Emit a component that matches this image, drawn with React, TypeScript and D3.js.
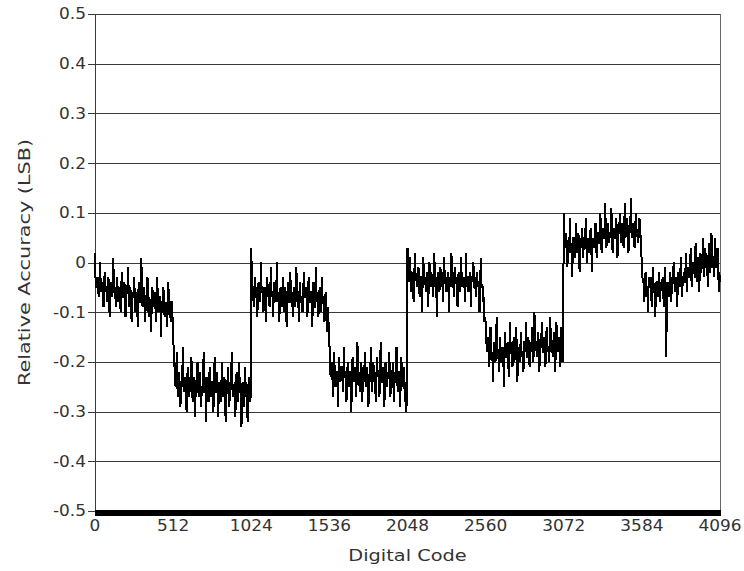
import React from "react";
import * as d3 from "d3";

const codeStep = 4;
const xTicks = [0, 512, 1024, 1536, 2048, 2560, 3072, 3584, 4096];
const yTicks = [-0.5, -0.4, -0.3, -0.2, -0.1, 0, 0.1, 0.2, 0.3, 0.4, 0.5];
const yTickLabels = ["-0.5", "-0.4", "-0.3", "-0.2", "-0.1", "0", "0.1", "0.2", "0.3", "0.4", "0.5"];

// Trace: "A" = codes 0, 8, 16, ... of each 512-code segment,
// "B" = codes 4, 12, 20, ... of the same segment.
const seg0A = [
  0.02, -0.05, -0.03, -0.07, 0.0, -0.06, -0.04, -0.09, -0.02, -0.05, -0.08, -0.03,
  -0.11, -0.04, -0.07, 0.01, -0.06, -0.09, -0.03, -0.08, -0.05, -0.1, -0.02, -0.07,
  -0.04, -0.11, -0.06, -0.01, -0.09, -0.05, -0.12, -0.07, -0.03, -0.1, -0.06, -0.13,
  -0.04, -0.08, 0.01, -0.09, -0.05, -0.12, -0.07, -0.03, -0.11, -0.08, -0.14, -0.05,
  -0.09, -0.06, -0.12, -0.03, -0.1, -0.07, -0.15, -0.08, -0.05, -0.11, -0.09, -0.13,
  -0.04, -0.1, -0.12, -0.08,
];
const seg0B = [
  -0.04, -0.05, -0.04, -0.05, -0.03, -0.05, -0.06, -0.04, -0.05, -0.06, -0.04, -0.06,
  -0.05, -0.06, -0.04, -0.06, -0.05, -0.07, -0.05, -0.06, -0.07, -0.05, -0.06, -0.07,
  -0.05, -0.07, -0.06, -0.05, -0.07, -0.08, -0.06, -0.07, -0.06, -0.08, -0.07, -0.06,
  -0.08, -0.06, -0.07, -0.08, -0.07, -0.09, -0.06, -0.08, -0.07, -0.09, -0.08, -0.07,
  -0.08, -0.09, -0.07, -0.08, -0.09, -0.07, -0.1, -0.08, -0.07, -0.09, -0.08, -0.1,
  -0.07, -0.09, -0.08, -0.11,
];
const seg1A = [
  -0.14, -0.2, -0.25, -0.18, -0.27, -0.22, -0.29, -0.24, -0.17, -0.26, -0.23, -0.3,
  -0.21, -0.27, -0.25, -0.19, -0.28, -0.23, -0.31, -0.24, -0.2, -0.27, -0.22, -0.29,
  -0.25, -0.18, -0.26, -0.32, -0.23, -0.28, -0.21, -0.27, -0.24, -0.3, -0.19, -0.26,
  -0.22, -0.31, -0.25, -0.28, -0.2, -0.27, -0.23, -0.32, -0.26, -0.21, -0.29, -0.24,
  -0.18, -0.27, -0.25, -0.31, -0.22, -0.28, -0.2, -0.26, -0.33, -0.24, -0.29, -0.21,
  -0.27, -0.32, -0.23, -0.28,
];
const seg1B = [
  -0.18, -0.24, -0.23, -0.25, -0.24, -0.26, -0.25, -0.23, -0.25, -0.24, -0.26, -0.24,
  -0.25, -0.23, -0.26, -0.25, -0.24, -0.26, -0.25, -0.23, -0.25, -0.24, -0.26, -0.25,
  -0.24, -0.26, -0.23, -0.25, -0.26, -0.24, -0.25, -0.26, -0.24, -0.25, -0.23, -0.26,
  -0.25, -0.24, -0.26, -0.25, -0.24, -0.26, -0.25, -0.27, -0.24, -0.25, -0.26, -0.24,
  -0.25, -0.26, -0.24, -0.25, -0.27, -0.25, -0.24, -0.26, -0.25, -0.27, -0.24, -0.26,
  -0.25, -0.26, -0.24, -0.27,
];
const seg2A = [
  0.03, -0.05, -0.09, -0.03, -0.07, -0.11, -0.04, -0.08, 0.0, -0.06, -0.1, -0.05,
  -0.12, -0.03, -0.07, -0.09, -0.01, -0.06, -0.11, -0.04, -0.08, 0.0, -0.07, -0.12,
  -0.05, -0.09, -0.03, -0.1, -0.06, -0.13, -0.04, -0.08, -0.02, -0.07, -0.11, -0.05,
  -0.09, -0.01, -0.06, -0.12, -0.04, -0.08, -0.1, -0.02, -0.07, -0.05, -0.11, -0.03,
  -0.08, -0.06, -0.13, -0.04, -0.09, -0.01, -0.07, -0.11, -0.05, -0.1, -0.03, -0.08,
  -0.12, -0.06, -0.14, -0.09,
];
const seg2B = [
  -0.03, -0.05, -0.06, -0.05, -0.07, -0.06, -0.05, -0.07, -0.06, -0.05, -0.07, -0.06,
  -0.07, -0.05, -0.06, -0.08, -0.06, -0.07, -0.05, -0.07, -0.06, -0.08, -0.06, -0.07,
  -0.08, -0.06, -0.07, -0.05, -0.08, -0.07, -0.06, -0.08, -0.07, -0.06, -0.08, -0.07,
  -0.06, -0.08, -0.07, -0.06, -0.08, -0.07, -0.08, -0.06, -0.07, -0.09, -0.07, -0.08,
  -0.06, -0.08, -0.07, -0.09, -0.07, -0.08, -0.06, -0.08, -0.09, -0.07, -0.08, -0.09,
  -0.07, -0.09, -0.1, -0.14,
];
const seg3A = [
  -0.16, -0.23, -0.2, -0.27, -0.18, -0.25, -0.22, -0.29, -0.19, -0.24, -0.21, -0.26,
  -0.17, -0.23, -0.28, -0.2, -0.25, -0.22, -0.3, -0.19, -0.24, -0.21, -0.27, -0.16,
  -0.23, -0.26, -0.2, -0.28, -0.22, -0.18, -0.25, -0.21, -0.29, -0.23, -0.17, -0.26,
  -0.2, -0.24, -0.28, -0.19, -0.22, -0.27, -0.16, -0.24, -0.21, -0.29, -0.2, -0.25,
  -0.22, -0.18, -0.27, -0.23, -0.2, -0.28, -0.24, -0.17, -0.26, -0.22, -0.29, -0.19,
  -0.25, -0.21, -0.28, -0.3,
];
const seg3B = [
  -0.2, -0.22, -0.23, -0.21, -0.24, -0.22, -0.23, -0.24, -0.22, -0.23, -0.21, -0.24,
  -0.23, -0.22, -0.24, -0.23, -0.22, -0.24, -0.23, -0.21, -0.23, -0.24, -0.22, -0.23,
  -0.24, -0.22, -0.23, -0.21, -0.24, -0.23, -0.22, -0.24, -0.23, -0.22, -0.24, -0.23,
  -0.22, -0.24, -0.23, -0.22, -0.24, -0.23, -0.22, -0.24, -0.23, -0.25, -0.22, -0.24,
  -0.23, -0.22, -0.24, -0.23, -0.25, -0.22, -0.24, -0.23, -0.22, -0.25, -0.23, -0.24,
  -0.22, -0.25, -0.24, -0.27,
];
const seg4A = [
  0.03, -0.04, 0.01, -0.06, -0.02, -0.08, 0.02, -0.03, -0.05, -0.01, -0.07, -0.03,
  -0.1, 0.01, -0.04, -0.06, -0.02, -0.09, 0.0, -0.05, -0.03, -0.07, 0.02, -0.04,
  -0.11, -0.02, -0.06, -0.01, -0.05, -0.08, 0.01, -0.04, -0.06, -0.02, -0.1, -0.03,
  0.02, -0.05, -0.07, -0.01, -0.04, -0.09, -0.02, -0.06, 0.01, -0.03, -0.05, -0.08,
  0.02, -0.04, -0.06, -0.02, -0.09, -0.03, 0.0, -0.05, -0.07, -0.02, -0.04, -0.1,
  0.01, -0.05, -0.08, -0.12,
];
const seg4B = [
  -0.01, -0.03, -0.02, -0.04, -0.03, -0.04, -0.02, -0.04, -0.03, -0.05, -0.03, -0.04,
  -0.02, -0.04, -0.03, -0.05, -0.04, -0.03, -0.04, -0.02, -0.04, -0.03, -0.05, -0.03,
  -0.04, -0.03, -0.05, -0.04, -0.02, -0.04, -0.03, -0.05, -0.04, -0.03, -0.04, -0.05,
  -0.03, -0.04, -0.02, -0.04, -0.05, -0.03, -0.04, -0.03, -0.05, -0.04, -0.03, -0.04,
  -0.05, -0.03, -0.04, -0.05, -0.03, -0.04, -0.05, -0.04, -0.03, -0.05, -0.04, -0.06,
  -0.04, -0.05, -0.07, -0.11,
];
const seg5A = [
  -0.12, -0.18, -0.15, -0.21, -0.13, -0.19, -0.24, -0.16, -0.2, -0.11, -0.18, -0.22,
  -0.15, -0.2, -0.17, -0.25, -0.14, -0.19, -0.16, -0.23, -0.12, -0.18, -0.21, -0.15,
  -0.19, -0.13, -0.24, -0.17, -0.2, -0.14, -0.18, -0.22, -0.16, -0.12, -0.19, -0.15,
  -0.21, -0.17, -0.13, -0.2, -0.1, -0.16, -0.19, -0.14, -0.22, -0.17, -0.12, -0.18,
  -0.15, -0.21, -0.13, -0.17, -0.2, -0.11, -0.16, -0.19, -0.14, -0.22, -0.12, -0.17,
  -0.15, -0.21, -0.13, -0.2,
];
const seg5B = [
  -0.15, -0.17, -0.18, -0.17, -0.19, -0.18, -0.2, -0.18, -0.19, -0.17, -0.19, -0.18,
  -0.2, -0.18, -0.19, -0.17, -0.19, -0.18, -0.2, -0.18, -0.17, -0.19, -0.18, -0.2,
  -0.18, -0.17, -0.19, -0.18, -0.17, -0.19, -0.18, -0.16, -0.18, -0.17, -0.19, -0.17,
  -0.16, -0.18, -0.17, -0.18, -0.16, -0.17, -0.18, -0.16, -0.18, -0.17, -0.16, -0.18,
  -0.17, -0.16, -0.18, -0.17, -0.16, -0.18, -0.17, -0.16, -0.18, -0.17, -0.16, -0.18,
  -0.17, -0.16, -0.18, -0.17,
];
const seg6A = [
  0.1, 0.03, 0.06, -0.01, 0.04, 0.09, 0.02, -0.03, 0.05, 0.01, 0.08, 0.03,
  0.06, -0.02, 0.04, 0.07, 0.01, 0.05, 0.09, 0.0, 0.04, 0.02, 0.07, -0.02,
  0.05, 0.03, 0.08, 0.01, 0.06, 0.04, 0.1, 0.02, 0.07, 0.05, 0.12, 0.03,
  0.08, 0.04, 0.06, 0.11, 0.02, 0.07, 0.05, 0.09, 0.01, 0.06, 0.1, 0.04,
  0.08, 0.03, 0.12, 0.06, 0.09, 0.02, 0.07, 0.13, 0.05, 0.08, 0.03, 0.1,
  0.06, 0.04, 0.09, 0.05,
];
const seg6B = [
  0.05, 0.04, 0.03, 0.04, 0.02, 0.04, 0.03, 0.05, 0.03, 0.04, 0.02, 0.04,
  0.03, 0.05, 0.03, 0.04, 0.05, 0.03, 0.04, 0.05, 0.03, 0.04, 0.05, 0.03,
  0.04, 0.05, 0.04, 0.06, 0.04, 0.05, 0.06, 0.04, 0.05, 0.06, 0.05, 0.07,
  0.05, 0.06, 0.05, 0.07, 0.06, 0.05, 0.07, 0.06, 0.05, 0.07, 0.06, 0.05,
  0.07, 0.06, 0.05, 0.07, 0.06, 0.05, 0.07, 0.06, 0.07, 0.05, 0.06, 0.07,
  0.05, 0.06, 0.07, 0.02,
];
const seg7A = [
  0.0, -0.04, -0.08, -0.02, -0.06, -0.1, -0.03, -0.05, -0.09, -0.01, -0.06, -0.11,
  -0.04, -0.07, -0.02, -0.08, -0.05, -0.03, -0.09, -0.01, -0.19, -0.05, -0.07, -0.02,
  -0.08, -0.04, 0.0, -0.06, -0.03, -0.09, -0.02, -0.05, 0.01, -0.07, -0.03, -0.04,
  0.02, -0.06, -0.01, -0.03, 0.03, -0.05, 0.0, -0.02, 0.04, -0.04, 0.01, -0.06,
  0.02, -0.01, 0.05, -0.03, 0.03, 0.0, -0.05, 0.04, -0.02, 0.06, 0.01, -0.03,
  0.05, -0.01, 0.03, -0.06, -0.04,
];
const seg7B = [
  -0.03, -0.04, -0.05, -0.04, -0.06, -0.04, -0.05, -0.03, -0.05, -0.04, -0.06, -0.05,
  -0.04, -0.05, -0.06, -0.04, -0.05, -0.06, -0.04, -0.05, -0.06, -0.04, -0.05, -0.03,
  -0.05, -0.04, -0.03, -0.05, -0.04, -0.03, -0.04, -0.02, -0.04, -0.03, -0.02, -0.04,
  -0.03, -0.02, -0.03, -0.01, -0.03, -0.02, -0.01, -0.03, -0.02, 0.0, -0.02, -0.01,
  -0.02, 0.0, -0.01, 0.01, -0.01, 0.0, 0.01, -0.01, 0.0, 0.02, 0.0, 0.01,
  -0.01, 0.01, 0.0, -0.02,
];

const segA = [seg0A, seg1A, seg2A, seg3A, seg4A, seg5A, seg6A, seg7A];
const segB = [seg0B, seg1B, seg2B, seg3B, seg4B, seg5B, seg6B, seg7B];

const values: number[] = segA.flatMap((a, s) =>
  a.flatMap((v, i) => (i < segB[s].length ? [v, segB[s][i]] : [v]))
);
const points: [number, number][] = values.map((v, i) => [i * codeStep, v]);

const W = 744;
const H = 571;
const FONT = "'DejaVu Sans', sans-serif";
const TICK_FS = 15;
const TICK_SX = 1.13;
const TITLE_FS = 16;

export default function App() {
  const x = d3.scaleLinear().domain([0, 4096]).range([95, 720]);
  const y = d3.scaleLinear().domain([-0.5, 0.5]).range([511, 14]);
  const line = d3
    .line<[number, number]>()
    .x((d) => x(d[0]))
    .y((d) => y(d[1]));
  const x0 = x(0);
  const x1 = x(4096);
  const yTop = y(0.5);
  const yBot = y(-0.5);

  return (
    <svg
      width={W}
      height={H}
      style={{ position: "absolute", left: 0, top: 0, background: "#fff" }}
    >
      <rect x={0} y={0} width={W} height={H} fill="#fff" />
      {yTicks.map((t) => (
        <line
          key={"g" + t}
          x1={x0 - 7}
          x2={x1}
          y1={Math.round(y(t)) + 0.5}
          y2={Math.round(y(t)) + 0.5}
          stroke="#3a3a3a"
          strokeWidth={1}
        />
      ))}
      <line x1={x0 + 0.5} x2={x0 + 0.5} y1={yTop} y2={yBot} stroke="#3a3a3a" strokeWidth={1} />
      <line x1={x1 + 0.5} x2={x1 + 0.5} y1={yTop} y2={yBot} stroke="#666" strokeWidth={1} />
      <path
        d={line(points) || ""}
        fill="none"
        stroke="#000"
        strokeWidth={2}
        strokeLinejoin="miter"
        strokeMiterlimit={2}
        shapeRendering="crispEdges"
      />
      <rect x={x0} y={yBot - 1} width={x1 - x0 + 1} height={6} fill="#000" />
      {yTicks.map((t, i) => (
        <text
          key={"yl" + t}
          transform={`translate(${x0 - 9},${y(t)}) scale(${TICK_SX},1)`}
          textAnchor="end"
          dy="0.36em"
          fontFamily={FONT}
          fontSize={TICK_FS}
          fill="#333"
        >
          {yTickLabels[i]}
        </text>
      ))}
      {xTicks.map((t) => (
        <text
          key={"xl" + t}
          transform={`translate(${x(t)},${yBot + 19.5}) scale(${TICK_SX},1)`}
          textAnchor="middle"
          fontFamily={FONT}
          fontSize={TICK_FS}
          fill="#333"
        >
          {String(t)}
        </text>
      ))}
      <text
        transform={`translate(${(x0 + x1) / 2},${yBot + 50}) scale(1.21,1)`}
        textAnchor="middle"
        fontFamily={FONT}
        fontSize={TITLE_FS}
        fill="#333"
      >
        Digital Code
      </text>
      <text
        transform={`translate(30,${(yTop + yBot) / 2}) rotate(-90) scale(1.3,1)`}
        textAnchor="middle"
        fontFamily={FONT}
        fontSize={TITLE_FS}
        fill="#333"
      >
        Relative Accuracy (LSB)
      </text>
    </svg>
  );
}
